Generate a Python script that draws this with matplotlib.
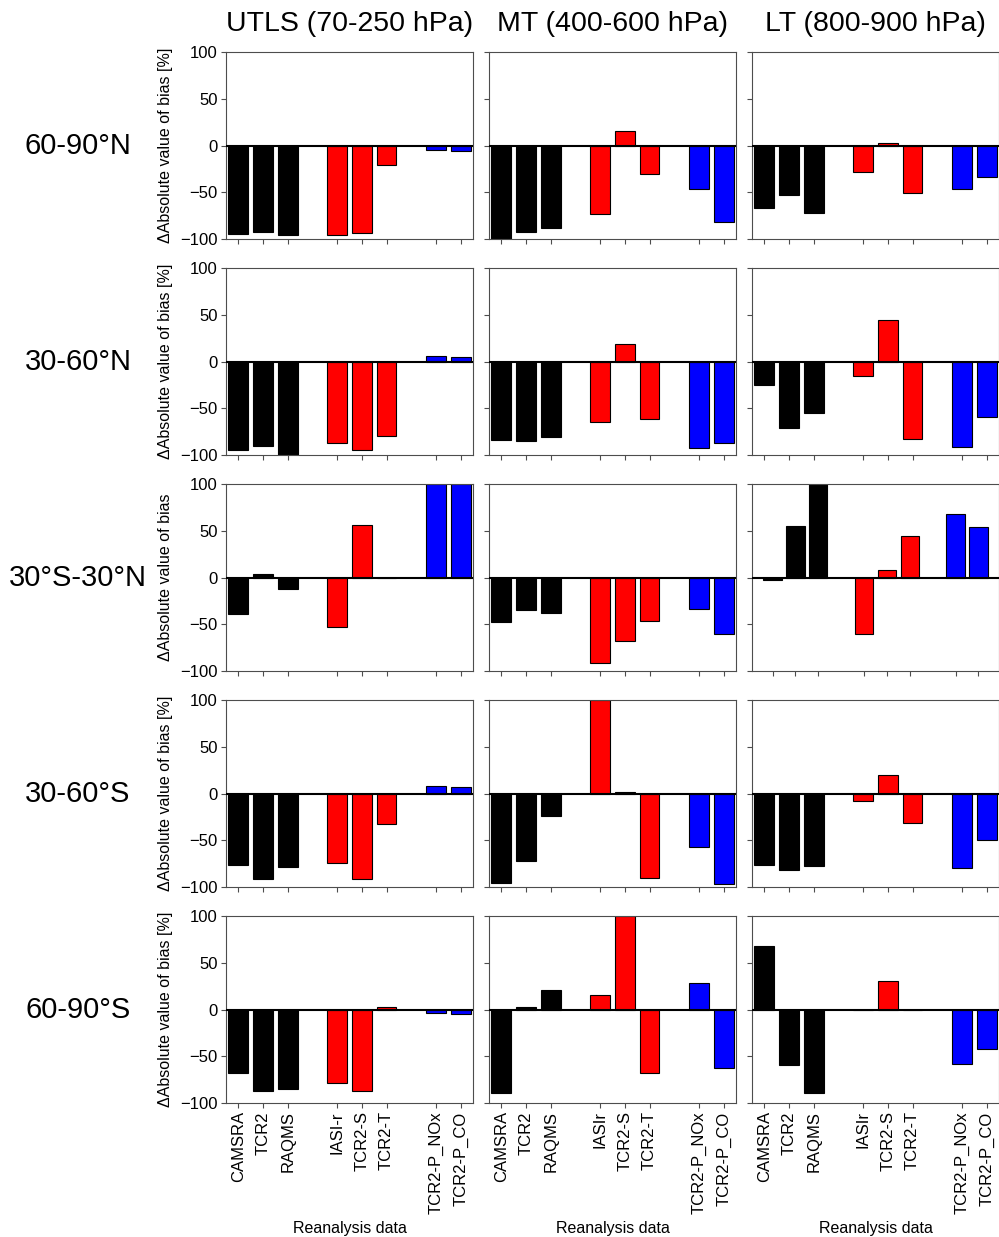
import matplotlib
matplotlib.use("Agg")
import matplotlib.pyplot as plt

plt.rcParams['font.family'] = ['Liberation Sans', 'DejaVu Sans']

# Categories (reanalyses / assimilation experiments)
labels_utls = ['CAMSRA', 'TCR2', 'RAQMS', 'IASI-r', 'TCR2-S', 'TCR2-T', 'TCR2-P_NOx', 'TCR2-P_CO']
labels_other = ['CAMSRA', 'TCR2', 'RAQMS', 'IASIr', 'TCR2-S', 'TCR2-T', 'TCR2-P_NOx', 'TCR2-P_CO']
bar_colors = ['black', 'black', 'black', 'red', 'red', 'red', 'blue', 'blue']
positions = [0, 1, 2, 4, 5, 6, 8, 9]

layers = ['UTLS (70-250 hPa)', 'MT (400-600 hPa)', 'LT (800-900 hPa)']
regions = ['60-90°N', '30-60°N', '30°S-30°N', '30-60°S', '60-90°S']

# Change in absolute bias [%], one row per latitude band
utls = [
    [-95, -92, -96, -96, -94, -21, -5, -6],
    [-95, -90, -100, -87, -95, -80, 6, 5],
    [-39, 4, -12.5, -52.5, 56, -1, 100, 100],
    [-77, -91, -79, -74, -91, -33, 8, 6.5],
    [-68, -87, -85, -79, -87, 3, -4, -5],
]
mt = [
    [-100, -92, -88, -73, 16, -30, -46, -82],
    [-84, -85, -81, -65, 19, -61, -92, -87],
    [-48, -35, -38, -91, -68, -46, -34, -60],
    [-96, -72, -24, 100, 2, -90, -57, -97],
    [-89, 3, 21, 15, 100, -68, 28, -63],
]
lt = [
    [-67, -53, -72, -28, 3, -51, -47, -33.5],
    [-25, -71, -55, -15, 44, -83, -91, -59],
    [-2.5, 55, 100, -60, 7.5, 44, 68, 54],
    [-76, -82, -78, -8, 20, -32, -80, -50],
    [68, -59, -89, -1, 30, -0.5, -58, -42],
]
data = [utls, mt, lt]

W, H = 999, 1237
fig = plt.figure(figsize=(W / 100, H / 100), dpi=100)

col_left = [226, 489, 752]
row_top = [52, 268, 484, 700, 916]
aw, ah = 247, 187

for r in range(5):
    for c in range(3):
        l, t = col_left[c], row_top[r]
        ax = fig.add_axes([l / W, 1 - (t + ah) / H, aw / W, ah / H])
        vals = data[c][r]
        ax.bar(positions, vals, width=0.8, color=bar_colors,
               edgecolor='black', linewidth=0.8, zorder=2)
        ax.axhline(0, color='black', linewidth=1.5, zorder=3)
        ax.set_ylim(-100, 100)
        if r == 2 and c == 2:
            ax.set_xlim(-0.9, 9.9)
        else:
            ax.set_xlim(-0.5, 9.5)
        ax.set_yticks([-100, -50, 0, 50, 100])
        ax.set_xticks(positions)
        for sp in ax.spines.values():
            sp.set_color('0.3')
            sp.set_linewidth(0.8)
        ax.tick_params(axis='both', direction='out', length=3.5, width=0.8,
                       color='0.3', labelsize=12, pad=2.5)
        if c == 0:
            ylab = 'ΔAbsolute value of bias' if r == 2 else 'ΔAbsolute value of bias [%]'
            ax.set_ylabel(ylab, fontsize=11.5, labelpad=5)
        else:
            ax.set_yticklabels([])
        if r == 4:
            names = labels_utls if c == 0 else labels_other
            ax.set_xticklabels(names, rotation=90, fontsize=12)
            ax.set_xlabel('Reanalysis data', fontsize=11.5, labelpad=5)
        else:
            ax.set_xticklabels([])
        if r == 0:
            ax.set_title(layers[c], fontsize=20.5, pad=15)
        if c == 0:
            fig.text(78 / W, 1 - (t + ah / 2) / H, regions[r],
                     ha='center', va='center', fontsize=21)

fig.savefig('out.png', dpi=100)
